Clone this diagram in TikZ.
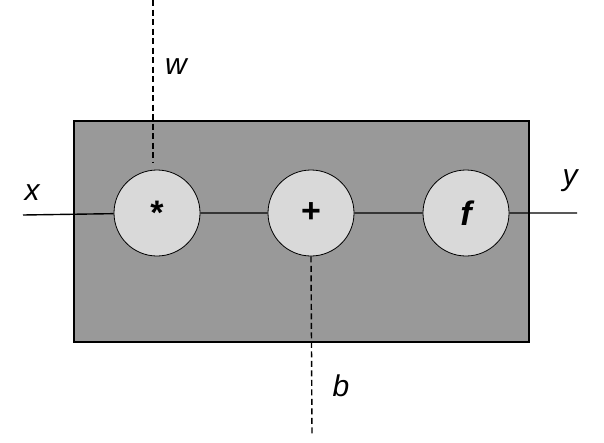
\documentclass[tikz,border=0pt]{standalone}
\usepackage{fontspec}
\setmainfont{Liberation Sans}
\usetikzlibrary{arrows.meta}

\begin{document}
\begin{tikzpicture}[x=1pt, y=-1pt, every node/.style={font=\fontsize{30}{32}\selectfont},
	op/.style={circle, draw=black, thick, fill=gray!30, minimum size=86pt, inner sep=0pt, font=\fontsize{34}{36}\selectfont\bfseries},
	wire/.style={draw=black, line width=1.4pt},
	bias/.style={wire, dash pattern=on 6pt off 3.5pt}]
	\useasboundingbox (0,0) rectangle (604,442);
	\draw[fill=gray!80, line width=1.5pt] (74,121) rectangle (529,342);
	\node[op] (mul) at (157,213) {*};
	\node[op] (add) at (311,213) {+};
	\node[op] (act) at (466,213) {\itshape f};
	\coordinate (xin) at (23,215);
	\coordinate (yout) at (577,213);
	\coordinate (wtop) at (153,0);
	\coordinate (wend) at (153,163);
	\coordinate (bbot) at (312,435);
	\draw[wire] (xin) -- (mul) -- (add) -- (act) -- (yout);
	\draw[bias] (wtop) -- (wend);
	\draw[bias] (add.south) -- (bbot);
	\node at (32,193) {\itshape x};
	\node at (176,67) {\itshape w};
	\node at (570,181) {\itshape y};
	\node at (341,386) {\itshape b};
\end{tikzpicture}
\end{document}
